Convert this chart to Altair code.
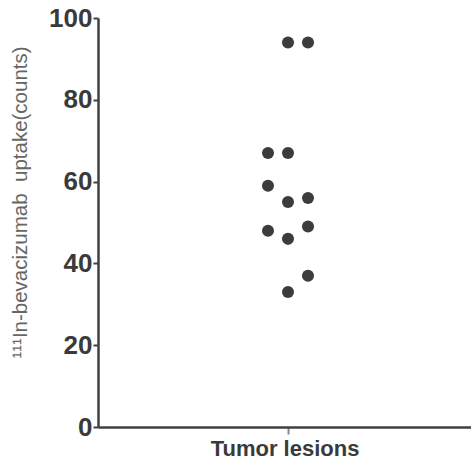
import altair as alt
import pandas as pd

# values
values = [94, 94, 67, 67, 59, 55, 56, 48, 46, 49, 37, 33]
column = [0, 1, -1, 0, -1, 0, 1, -1, 0, 1, 1, 0]  # horizontal dot column (-1 left, 0 centre, 1 right)
y_ticks = [0, 20, 40, 60, 80, 100]

df = pd.DataFrame({"col": column, "uptake": values})

axis_color = "#404040"

chart = alt.Chart(df).mark_circle(size=145, opacity=1, color="#3c3c3c").encode(
    x=alt.X("col:Q",
            scale=alt.Scale(domain=[-9.5, 9.15], nice=False, zero=False),
            axis=alt.Axis(title="Tumor lesions", values=[0], labels=False, grid=False,
                          domainColor=axis_color, domainWidth=2.5, tickColor="#888888",
                          tickSize=7, tickWidth=2, titleFontSize=22, titleFont="Liberation Sans",
                          titleFontWeight="bold", titleColor="#3a3a3a", titlePadding=3)),
    y=alt.Y("uptake:Q",
            scale=alt.Scale(domain=[0, 100], nice=False),
            axis=alt.Axis(title="¹¹¹In-bevacizumab\u00a0 uptake(counts)", values=y_ticks, grid=False,
                          domainColor=axis_color, domainWidth=2.5, tickColor=axis_color,
                          tickSize=5, tickWidth=2, labelFontSize=26, labelFont="Liberation Sans",
                          labelFontWeight="bold", labelColor="#3a3a3a", labelPadding=1,
                          titleFontSize=20.5, titleFont="Liberation Sans", titleFontWeight="normal",
                          titleColor="#666666", titleAngle=270, titleX=-78, titleY=184,
                          titleAlign="center", titleBaseline="middle")),
).properties(
    width=373, height=409,
    autosize=alt.AutoSizeParams(type="none"),
    padding={"left": 98, "top": 18, "right": 0, "bottom": 39},
    background="white",
).configure_view(stroke=None)

chart.save("out.html", embed_options={"renderer": "svg", "actions": False})
